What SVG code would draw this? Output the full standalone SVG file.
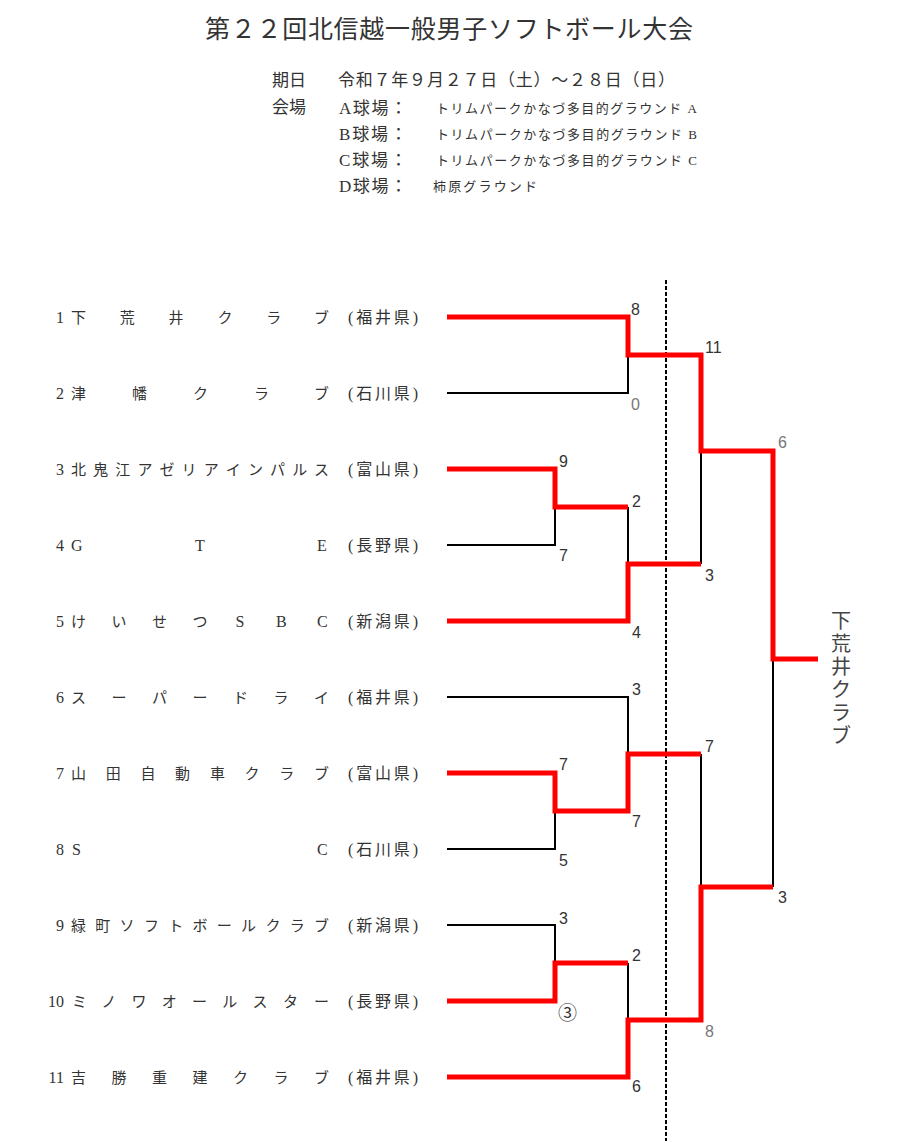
<svg xmlns="http://www.w3.org/2000/svg" width="900" height="1143" viewBox="0 0 900 1143">
<style>
.t{font-family:"Liberation Serif","Noto Sans CJK JP",serif;fill:#333}
.title{font-size:25px}
.hd{font-size:17px}
.sm{font-size:13px}
.tm{font-size:15px}
.pf{font-size:16px}
.num{font-size:16px}
.lat{font-size:16px}
.sc{font-family:"Liberation Sans","Noto Sans CJK JP",sans-serif;font-size:16px;fill:#333}
.scl{font-family:"Liberation Sans","Noto Sans CJK JP",sans-serif;font-size:16px;fill:#777}
.bk{fill:none;stroke:#000;stroke-width:2}
.rd{fill:none;stroke:#ff0000;stroke-width:5;stroke-linejoin:miter}
.win{font-family:"Noto Sans CJK JP",sans-serif;font-size:20px;fill:#444}
</style>
<rect width="900" height="1143" fill="#fff"/>
<g id="header">
<text class="t title" x="449" y="38" text-anchor="middle" textLength="488" lengthAdjust="spacing">第２２回北信越一般男子ソフトボール大会</text>
<text class="t hd" x="272" y="86">期日</text>
<text class="t hd" x="338" y="86" textLength="337" lengthAdjust="spacing">令和７年９月２７日（土）～２８日（日）</text>
<text class="t hd" x="272" y="113">会場</text>
<text class="t hd" x="339" y="114" textLength="68" lengthAdjust="spacing">A球場：</text>
<text class="t sm" x="436" y="113" textLength="261" lengthAdjust="spacing">トリムパークかなづ多目的グラウンド A</text>
<text class="t hd" x="339" y="140" textLength="68" lengthAdjust="spacing">B球場：</text>
<text class="t sm" x="436" y="139" textLength="261" lengthAdjust="spacing">トリムパークかなづ多目的グラウンド B</text>
<text class="t hd" x="339" y="166" textLength="68" lengthAdjust="spacing">C球場：</text>
<text class="t sm" x="436" y="165" textLength="261" lengthAdjust="spacing">トリムパークかなづ多目的グラウンド C</text>
<text class="t hd" x="339" y="192" textLength="68" lengthAdjust="spacing">D球場：</text>
<text class="t sm" x="433" y="191" textLength="104" lengthAdjust="spacing">柿原グラウンド</text>
</g>
<g id="team1"><text class="t num" x="64" y="323" text-anchor="end">1</text><text class="t tm" x="71 119.8 168.6 217.4 266.2 314" y="323">下荒井クラブ</text><text class="t pf" x="348" y="323" textLength="70" lengthAdjust="spacing">(福井県)</text></g>
<g id="team2"><text class="t num" x="64" y="399" text-anchor="end">2</text><text class="t tm" x="71 132 193 254 314" y="399">津幡クラブ</text><text class="t pf" x="348" y="399" textLength="70" lengthAdjust="spacing">(石川県)</text></g>
<g id="team3"><text class="t num" x="64" y="475" text-anchor="end">3</text><text class="t tm" x="71 93.1 115.2 137.4 159.5 181.6 203.7 225.8 248 270.1 292.2 314" y="475">北鬼江アゼリアインパルス</text><text class="t pf" x="348" y="475" textLength="70" lengthAdjust="spacing">(富山県)</text></g>
<g id="team4"><text class="t num" x="64" y="551" text-anchor="end">4</text><text class="t lat" x="71 195 317" y="551">GTE</text><text class="t pf" x="348" y="551" textLength="70" lengthAdjust="spacing">(長野県)</text></g>
<g id="team5"><text class="t num" x="64" y="627" text-anchor="end">5</text><text class="t tm" x="71 111.5 152 192.5" y="627">けいせつ</text><text class="t lat" x="235.5 276 317" y="627">SBC</text><text class="t pf" x="348" y="627" textLength="70" lengthAdjust="spacing">(新潟県)</text></g>
<g id="team6"><text class="t num" x="64" y="703" text-anchor="end">6</text><text class="t tm" x="71 111.5 152 192.5 233 273.5 314" y="703">スーパードライ</text><text class="t pf" x="348" y="703" textLength="70" lengthAdjust="spacing">(福井県)</text></g>
<g id="team7"><text class="t num" x="64" y="779" text-anchor="end">7</text><text class="t tm" x="71 105.7 140.4 175.1 209.9 244.6 279.3 314" y="779">山田自動車クラブ</text><text class="t pf" x="348" y="779" textLength="70" lengthAdjust="spacing">(富山県)</text></g>
<g id="team8"><text class="t num" x="64" y="855" text-anchor="end">8</text><text class="t lat" x="72 317" y="855">SC</text><text class="t pf" x="348" y="855" textLength="70" lengthAdjust="spacing">(石川県)</text></g>
<g id="team9"><text class="t num" x="64" y="931" text-anchor="end">9</text><text class="t tm" x="71 95.3 119.6 143.9 168.2 192.5 216.8 241.1 265.4 289.7 314" y="931">緑町ソフトボールクラブ</text><text class="t pf" x="348" y="931" textLength="70" lengthAdjust="spacing">(新潟県)</text></g>
<g id="team10"><text class="t num" x="64" y="1007" text-anchor="end">10</text><text class="t tm" x="72 101.3 131.5 161.8 192 222.3 252.5 283 314" y="1007">ミノワオールスター</text><text class="t pf" x="348" y="1007" textLength="70" lengthAdjust="spacing">(長野県)</text></g>
<g id="team11"><text class="t num" x="64" y="1083" text-anchor="end">11</text><text class="t tm" x="71 111.5 152 192.5 233 273.5 314" y="1083">吉勝重建クラブ</text><text class="t pf" x="348" y="1083" textLength="70" lengthAdjust="spacing">(福井県)</text></g>
<g id="connectors">
<line x1="666" y1="280" x2="666" y2="1141" stroke="#000" stroke-width="2" stroke-dasharray="4 2"/>
<path class="bk" d="M447,393 H628 V355"/>
<path class="bk" d="M447,545 H555 V507"/>
<path class="bk" d="M628,507 V564"/>
<path class="bk" d="M701,451 V564"/>
<path class="bk" d="M447,697 H628 V754"/>
<path class="bk" d="M447,849 H555 V811"/>
<path class="bk" d="M701,754 V887"/>
<path class="bk" d="M773,659 V887"/>
<path class="bk" d="M447,925 H555 V963"/>
<path class="bk" d="M628,963 V1020"/>
<path class="rd" d="M447,317 H628 V355 H701 V451 H773 V659 H818"/>
<path class="rd" d="M447,469 H555 V507 H628"/>
<path class="rd" d="M447,621 H628 V564 H701"/>
<path class="rd" d="M447,773 H555 V811 H628 V754 H701"/>
<path class="rd" d="M447,1001 H555 V963 H628"/>
<path class="rd" d="M447,1077 H628 V1020 H701 V887 H773"/>
</g>
<g id="scores">
<text class="sc" x="631" y="315">8</text>
<text class="scl" x="631" y="410">0</text>
<text class="sc" x="705" y="353">11</text>
<text class="scl" x="778" y="448">6</text>
<text class="sc" x="559" y="467">9</text>
<text class="sc" x="559" y="561">7</text>
<text class="sc" x="632" y="507">2</text>
<text class="sc" x="632" y="638">4</text>
<text class="sc" x="705" y="581">3</text>
<text class="sc" x="632" y="695">3</text>
<text class="sc" x="559" y="770">7</text>
<text class="sc" x="559" y="866">5</text>
<text class="sc" x="632" y="827">7</text>
<text class="sc" x="705" y="752">7</text>
<text class="sc" x="778" y="903">3</text>
<text class="sc" x="559" y="924">3</text>
<text class="sc" x="632" y="961">2</text>
<text class="sc" x="558" y="1020" style="font-family:'Noto Sans CJK JP',sans-serif;font-size:19px">③</text>
<text class="scl" x="705" y="1037">8</text>
<text class="sc" x="632" y="1092">6</text>
</g>
<g id="winner">
<text class="win" x="841 841 841 841 841 841" y="628 651 674 697 720 743" text-anchor="middle">下荒井クラブ</text>
</g>
</svg>
